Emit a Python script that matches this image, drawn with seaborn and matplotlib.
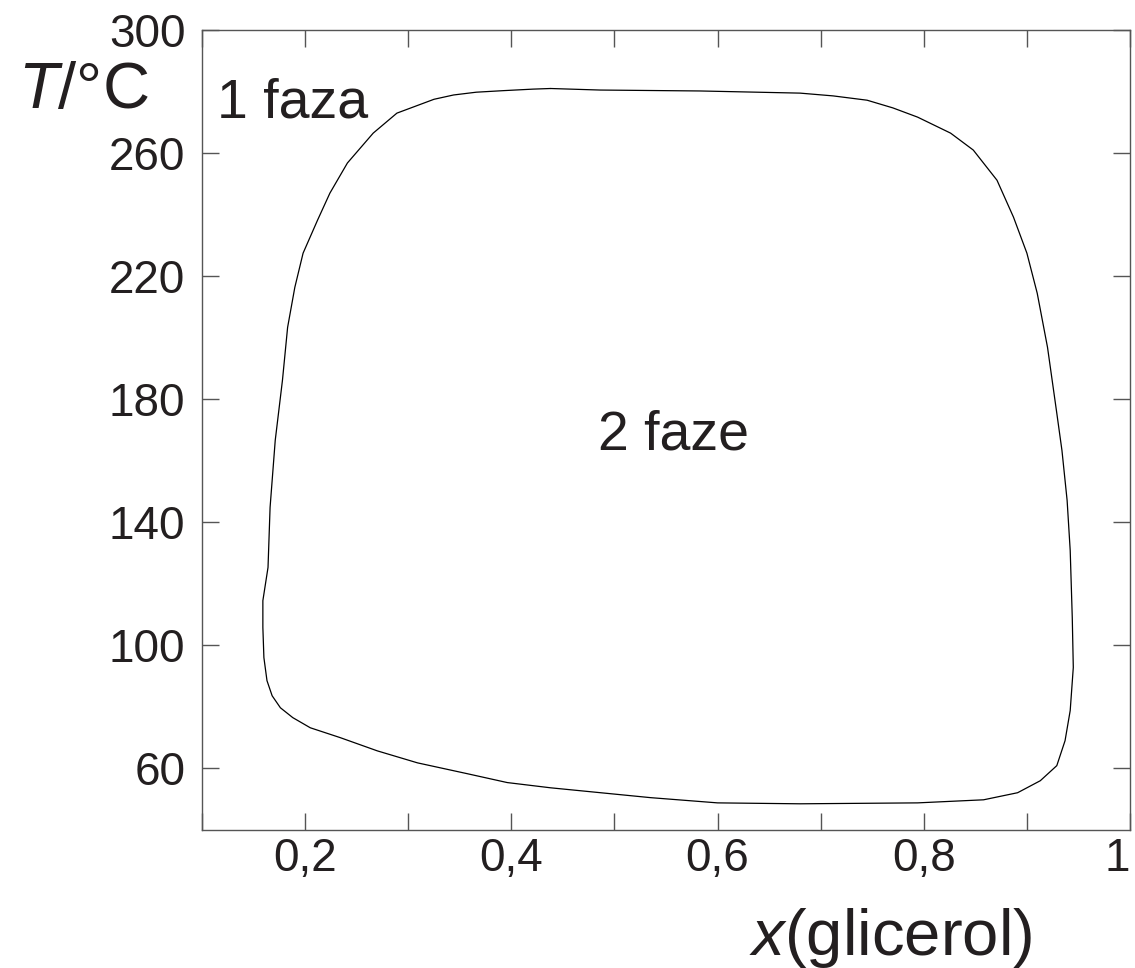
import numpy as np
import pandas as pd
import seaborn as sns
import matplotlib.pyplot as plt

# two-phase boundary, traced around the loop
x_glic = [0.438, 0.421, 0.392, 0.366, 0.344, 0.325, 0.305, 0.289, 0.266, 0.241,
          0.224, 0.212, 0.198, 0.190, 0.183, 0.178, 0.171, 0.166, 0.164, 0.159,
          0.159, 0.160, 0.163, 0.168, 0.176, 0.188, 0.205, 0.234, 0.270, 0.309,
          0.357, 0.396, 0.438, 0.535, 0.600, 0.680, 0.794, 0.858, 0.891, 0.913,
          0.929, 0.937, 0.942, 0.945, 0.944, 0.942, 0.939, 0.934, 0.929, 0.920,
          0.910, 0.900, 0.887, 0.871, 0.848, 0.826, 0.794, 0.770, 0.745, 0.712,
          0.680, 0.583, 0.486, 0.438]
temp = [280.9, 280.7, 280.2, 279.7, 278.8, 277.4, 274.9, 272.9, 266.4, 256.7,
        246.9, 238.1, 227.4, 216.3, 203.3, 186.1, 166.6, 144.8, 125.3, 114.5,
        105.8, 96.0, 88.5, 83.6, 79.7, 76.5, 73.2, 70.0, 65.7, 61.8,
        58.3, 55.4, 53.7, 50.5, 48.8, 48.5, 48.8, 49.8, 52.1, 56.0,
        60.9, 69.0, 78.8, 92.8, 109.0, 130.8, 147.1, 163.3, 175.4, 196.8,
        214.4, 227.4, 239.1, 251.1, 260.9, 266.4, 271.6, 274.6, 277.1, 278.5,
        279.4, 280.1, 280.4, 280.9]

xticks = [0.1, 0.2, 0.3, 0.4, 0.5, 0.6, 0.7, 0.8, 0.9, 1.0]
xlabels = ['', '0,2', '', '0,4', '', '0,6', '', '0,8', '', '1']
yticks = [60, 100, 140, 180, 220, 260, 300]

df = pd.DataFrame({'x': x_glic, 'T': temp})

sns.set_style("ticks")
plt.rcParams['font.family'] = ['Liberation Sans', 'DejaVu Sans']
plt.rcParams['mathtext.fontset'] = 'custom'
plt.rcParams['mathtext.rm'] = 'Liberation Sans'
plt.rcParams['mathtext.it'] = 'Liberation Sans:italic'
ink = '#231f20'

fig = plt.figure(figsize=(11.35, 9.68), dpi=100)
ax = fig.add_axes([0.178, 0.1426, 0.8176, 0.8267])

sns.lineplot(data=df, x='x', y='T', sort=False, estimator=None,
             color='black', linewidth=0.9, ax=ax)

ax.set_xlim(0.1, 1.0)
ax.set_ylim(40, 300)
ax.set_xticks(xticks)
ax.set_xticklabels(xlabels)
ax.set_yticks(yticks)
ax.set_xlabel('')
ax.set_ylabel('')
for s in ax.spines.values():
    s.set_color('#555555')
    s.set_linewidth(1.0)
ax.tick_params(direction='in', length=12, width=1.0, color='#555555',
               top=True, right=True, labelsize=33, labelcolor=ink)
ax.tick_params(axis='x', pad=5)
ax.tick_params(axis='y', pad=12)
# last label sits at the figure edge, keep it inside
ax.get_xticklabels()[-1].set_ha('right')

ax.text(0.1146, 271.6, '1 faza', fontsize=40, color=ink, ha='left', va='baseline')
ax.text(0.557, 163.5, '2 faze', fontsize=40, color=ink, ha='center', va='baseline')

fig.text(18 / 1135, 1 - 108 / 968, r'$T$/°C', fontsize=47, color=ink,
         ha='left', va='baseline')
fig.text(1032 / 1135, 1 - 955 / 968, r'$x$(glicerol)', fontsize=47, color=ink,
         ha='right', va='baseline')

plt.savefig('out.png', dpi=100)
